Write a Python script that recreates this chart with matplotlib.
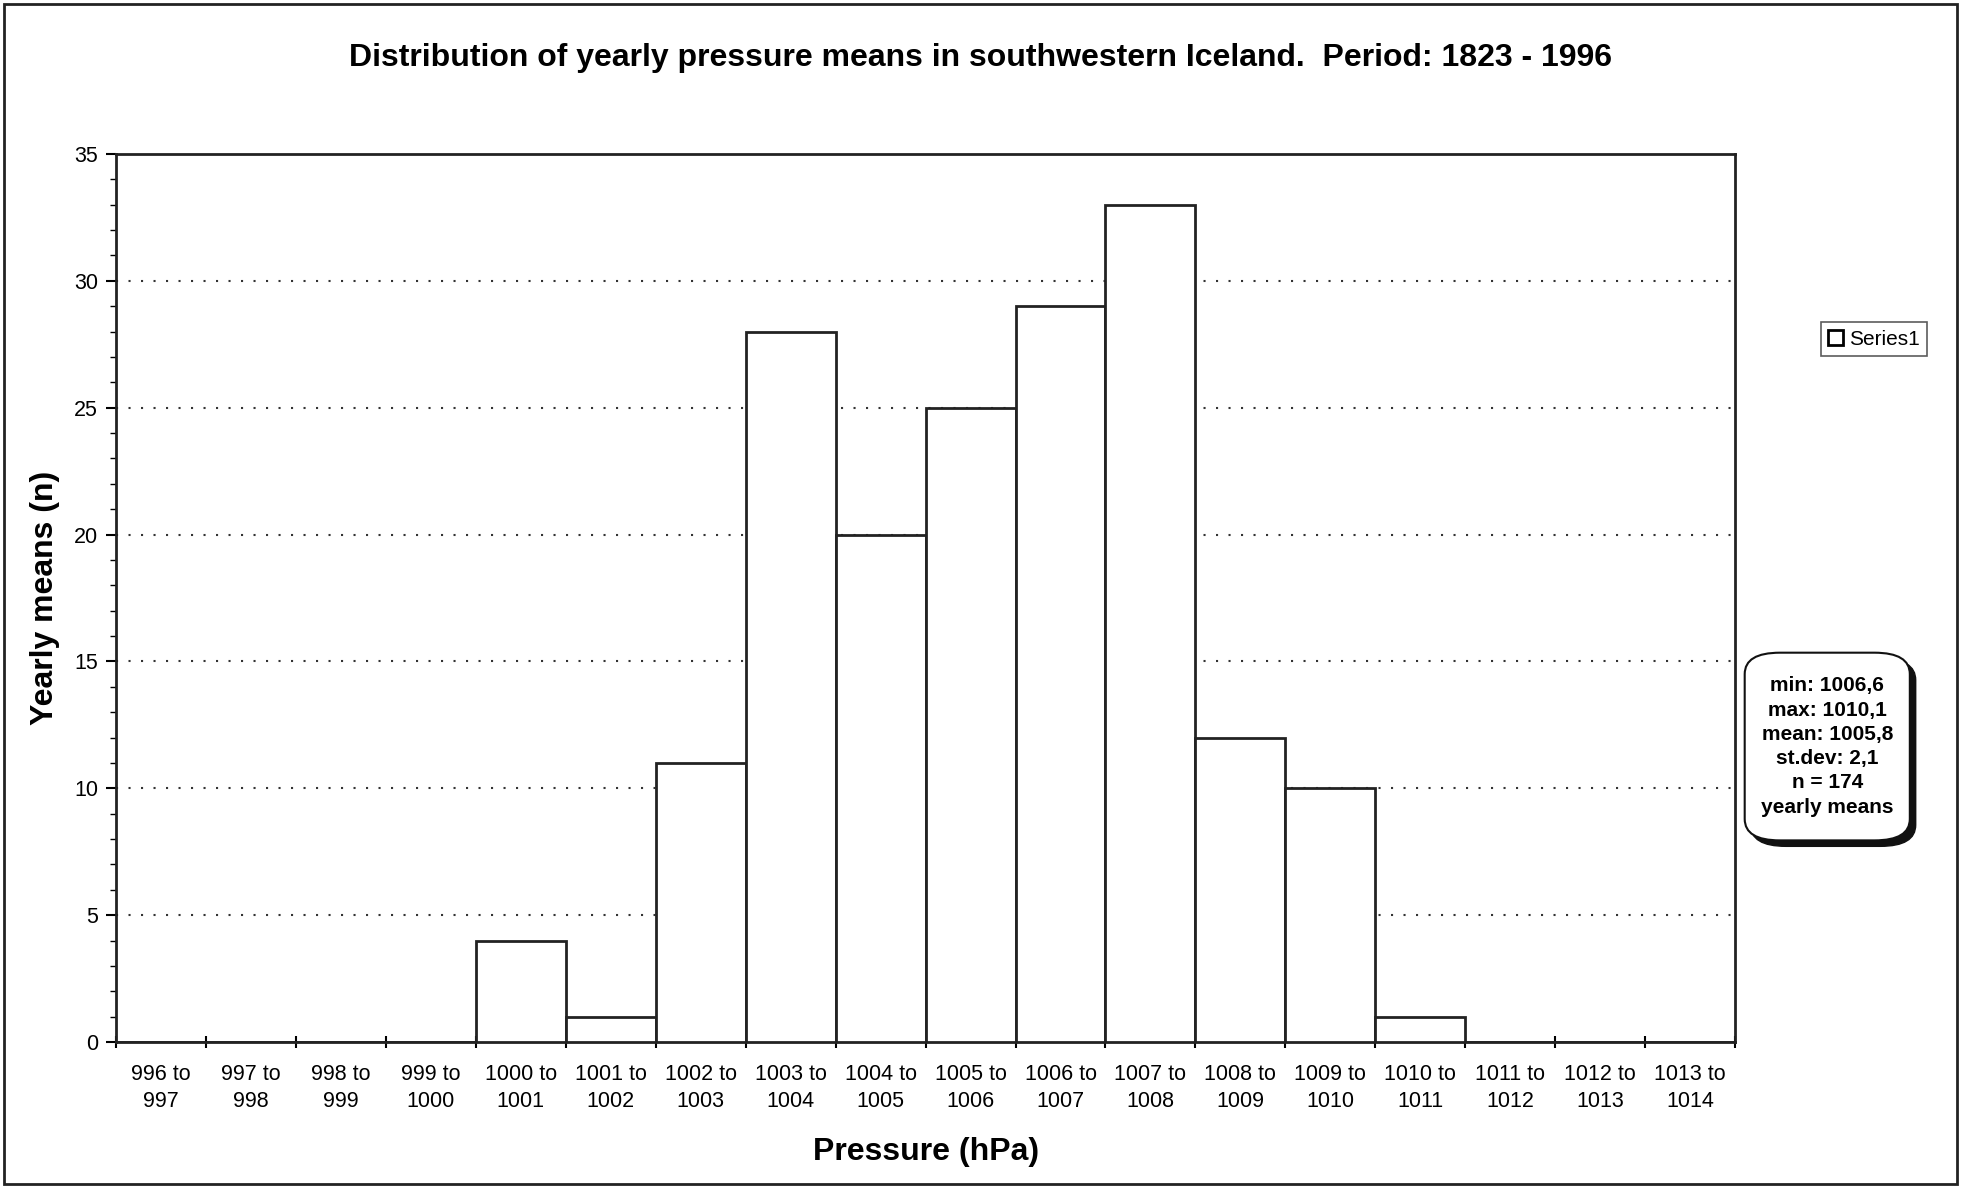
import matplotlib
matplotlib.use("Agg")
import matplotlib.pyplot as plt
from matplotlib.patches import FancyBboxPatch, Rectangle
import numpy as np

plt.rcParams['font.family'] = ['Liberation Sans', 'DejaVu Sans']

# pressure classes (hPa) and number of yearly means in each
lower = [996, 997, 998, 999, 1000, 1001, 1002, 1003, 1004,
         1005, 1006, 1007, 1008, 1009, 1010, 1011, 1012, 1013]
counts = [0, 0, 0, 0, 4, 1, 11, 28, 20, 25, 29, 33, 12, 10, 1, 0, 0, 0]
labels = ["%d to\n%d" % (p, p + 1) for p in lower]
yticks = [0, 5, 10, 15, 20, 25, 30, 35]
stats = ["min: 1006,6", "max: 1010,1", "mean: 1005,8",
         "st.dev: 2,1", "n = 174", "yearly means"]

fig = plt.figure(figsize=(19.61, 11.88), dpi=100)
ax = fig.add_axes([0.0592, 0.1229, 0.8256, 0.7475])

x = np.arange(len(counts))
ax.bar(x, counts, width=1.0, color="white", edgecolor="#222222",
       linewidth=2, zorder=3, label="Series1")

ax.set_xlim(-0.5, len(counts) - 0.5)
ax.set_ylim(0, 35)
ax.set_yticks(yticks)
ax.set_yticks(np.arange(0, 36, 1), minor=True)
ax.set_xticks(x)
ax.set_xticklabels(labels, fontsize=15.5, linespacing=1.35)
ax.set_xticks(np.arange(-0.5, len(counts), 1), minor=True)
ax.tick_params(axis="x", which="major", length=0, pad=16)
ax.tick_params(axis="x", which="minor", length=8, direction="inout", width=1.5)
ax.tick_params(axis="y", which="major", length=7, width=1.5, labelsize=15.5, pad=6)
ax.tick_params(axis="y", which="minor", length=4, width=1)

for g in yticks[1:-1]:
    ax.axhline(g, color="#333333", linestyle=(0, (1, 5)), linewidth=1.5, zorder=1)

for s in ax.spines.values():
    s.set_linewidth(2)
    s.set_color("#222222")

fig.text(0.5, 0.951, "Distribution of yearly pressure means in southwestern Iceland.  Period: 1823 - 1996",
         ha="center", va="center", fontsize=23, fontweight="bold")
ax.set_xlabel("Pressure (hPa)", fontsize=23, fontweight="bold", labelpad=18)
ax.set_ylabel("Yearly means (n)", fontsize=23, fontweight="bold", labelpad=10)

leg = fig.legend(handles=[Rectangle((0, 0), 1, 1, facecolor="white",
                                    edgecolor="black", linewidth=2)],
                 labels=["Series1"], loc="center", bbox_to_anchor=(0.9555, 0.7145),
                 fontsize=15, frameon=True, fancybox=False, handlelength=0.7,
                 handleheight=0.7, handletextpad=0.3, borderpad=0.35)
leg.get_frame().set_edgecolor("#333333")
leg.get_frame().set_linewidth(1.2)

# stats box with shadow
bx, by, bw, bh = 0.8897, 0.2926, 0.0842, 0.158
fig.patches.append(FancyBboxPatch((bx + 0.003, by - 0.005), bw, bh,
                                  boxstyle="round,pad=0.0,rounding_size=0.018",
                                  transform=fig.transFigure, facecolor="#111111",
                                  edgecolor="#111111", linewidth=1))
fig.patches.append(FancyBboxPatch((bx, by), bw, bh,
                                  boxstyle="round,pad=0.0,rounding_size=0.018",
                                  transform=fig.transFigure, facecolor="white",
                                  edgecolor="#111111", linewidth=1.5))
fig.text(bx + bw / 2, by + bh / 2, "\n".join(stats), ha="center", va="center",
         fontsize=15, fontweight="bold", linespacing=1.35)

# outer border
fig.patches.append(Rectangle((0.002, 0.003), 0.996, 0.994, transform=fig.transFigure,
                             fill=False, edgecolor="#222222", linewidth=2))

fig.savefig("out.png", dpi=100)
